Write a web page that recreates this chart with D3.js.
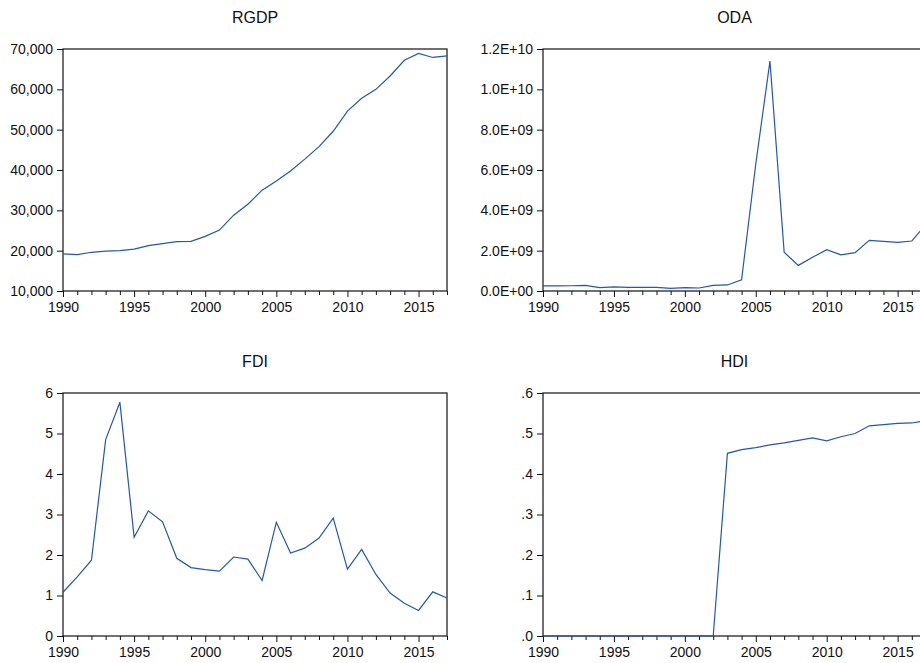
<!DOCTYPE html>
<html>
<head>
<meta charset="utf-8">
<script src="https://cdn.jsdelivr.net/npm/d3@7"></script>
<style>
  body { margin: 0; background: #fff; }
  svg { display: block; font-family: "Liberation Sans", Arial, sans-serif; }
</style>
</head>
<body>
<div id="plot"></div>
<script>
    // years shared by all four series
    const years = d3.range(1990, 2018);

    const rgdp = [19200, 19000, 19600, 19900, 20000, 20400, 21250, 21750, 22250, 22300,
                  23550, 25100, 28800, 31500, 35000, 37300, 39750, 42700, 45800, 49600,
                  54600, 57800, 60000, 63300, 67200, 68900, 67900, 68300];

    const oda = [0.25e9, 0.25e9, 0.26e9, 0.28e9, 0.17e9, 0.20e9, 0.18e9, 0.18e9, 0.18e9, 0.13e9,
                 0.17e9, 0.15e9, 0.28e9, 0.30e9, 0.56e9, 6.3e9, 11.4e9, 1.92e9, 1.27e9, 1.67e9,
                 2.05e9, 1.79e9, 1.90e9, 2.51e9, 2.46e9, 2.41e9, 2.48e9, 3.3e9];

    const fdi = [1.08, 1.46, 1.87, 4.85, 5.77, 2.44, 3.09, 2.82, 1.92, 1.69,
                 1.64, 1.60, 1.95, 1.90, 1.37, 2.81, 2.05, 2.17, 2.42, 2.91,
                 1.65, 2.14, 1.52, 1.06, 0.81, 0.63, 1.09, 0.94];

    const hdi = [0, 0, 0, 0, 0, 0, 0, 0, 0, 0,
                 0, 0, 0, 0.451, 0.460, 0.465, 0.472, 0.477, 0.483, 0.489,
                 0.482, 0.492, 0.500, 0.519, 0.522, 0.525, 0.526, 0.532];

    // y tick values per panel
    const rgdpTicks = [10000, 20000, 30000, 40000, 50000, 60000, 70000];
    const odaTicks = [0, 2e9, 4e9, 6e9, 8e9, 1e10, 1.2e10];
    const fdiTicks = [0, 1, 2, 3, 4, 5, 6];
    const hdiTicks = [0, 0.1, 0.2, 0.3, 0.4, 0.5, 0.6];

    const svgWidth = 920;
    const svgHeight = 663;
    const lineColor = '#2457b0';

    const svg = d3.select('#plot')
        .append('svg')
        .attr('width', svgWidth)
        .attr('height', svgHeight);

    // format like 8.0E+09
    function sciFormat(v) {
        if (v === 0) return '0.0E+00';
        const parts = v.toExponential(1).toUpperCase().split('E');
        let exp = parseInt(parts[1], 10);
        const sign = exp < 0 ? '-' : '+';
        exp = Math.abs(exp);
        return parts[0] + 'E' + sign + (exp < 10 ? '0' + exp : exp);
    }

    function dotFormat(v) {
        return d3.format('.1f')(v).replace(/^0/, '');
    }

    const panels = [
        { title: 'RGDP', values: rgdp, ticks: rgdpTicks, domain: [10000, 70000], fmt: d3.format(','),
          x0: 63, x1: 447, y0: 49, y1: 291 },
        { title: 'ODA', values: oda, ticks: odaTicks, domain: [0, 1.2e10], fmt: sciFormat,
          x0: 543, x1: 926, y0: 49, y1: 291 },
        { title: 'FDI', values: fdi, ticks: fdiTicks, domain: [0, 6], fmt: d3.format('d'),
          x0: 63, x1: 447, y0: 393, y1: 636 },
        { title: 'HDI', values: hdi, ticks: hdiTicks, domain: [0, 0.6], fmt: dotFormat,
          x0: 543, x1: 926, y0: 393, y1: 636 }
    ];

    panels.forEach(p => {
        const xScale = d3.scaleLinear().domain([1990, 2017]).range([p.x0, p.x1]);
        const yScale = d3.scaleLinear().domain(p.domain).range([p.y1, p.y0]);

        const g = svg.append('g');

        // title
        g.append('text')
            .attr('x', (p.x0 + p.x1) / 2)
            .attr('y', p.y0 - 26)
            .attr('text-anchor', 'middle')
            .style('font-size', '16px')
            .attr('fill', '#111')
            .text(p.title);

        // x-axis
        const xAxis = g.append('g')
            .attr('transform', `translate(0, ${p.y1})`)
            .call(d3.axisBottom(xScale)
                .tickValues(years)
                .tickSize(4)
                .tickPadding(7)
                .tickFormat(d => d % 5 === 0 ? d : ''));
        xAxis.select('.domain').remove();
        xAxis.selectAll('.tick line')
            .attr('y2', d => d % 5 === 0 ? 6 : 4)
            .attr('stroke', '#111');
        xAxis.selectAll('text')
            .style('font-size', '14px')
            .attr('fill', '#111');

        // y-axis
        const yAxis = g.append('g')
            .attr('transform', `translate(${p.x0}, 0)`)
            .call(d3.axisLeft(yScale)
                .tickValues(p.ticks)
                .tickSize(6)
                .tickPadding(4)
                .tickFormat(p.fmt));
        yAxis.select('.domain').remove();
        yAxis.selectAll('.tick line').attr('stroke', '#111');
        yAxis.selectAll('text')
            .style('font-size', '14px')
            .attr('fill', '#111');

        // frame
        g.append('rect')
            .attr('x', p.x0)
            .attr('y', p.y0)
            .attr('width', p.x1 - p.x0)
            .attr('height', p.y1 - p.y0)
            .attr('fill', 'none')
            .attr('stroke', '#111')
            .attr('stroke-width', 1.2);

        // series line
        const line = d3.line()
            .x((d, i) => xScale(years[i]))
            .y(d => yScale(d));

        g.append('path')
            .datum(p.values)
            .attr('d', line)
            .attr('fill', 'none')
            .attr('stroke', lineColor)
            .attr('stroke-width', 1.2);
    });
</script>
</body>
</html>
